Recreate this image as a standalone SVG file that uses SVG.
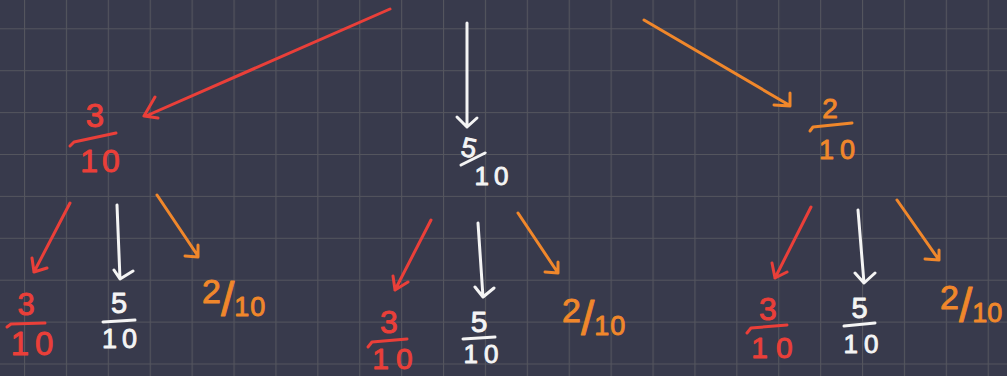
<svg xmlns="http://www.w3.org/2000/svg" width="1007" height="376" viewBox="0 0 1007 376">
<style>
.t{font-family:"Liberation Sans",Arial,sans-serif;text-anchor:middle;stroke-width:0.9;stroke-linejoin:round}
.l{font-family:"Liberation Sans",Arial,sans-serif;stroke-width:0.9;stroke-linejoin:round}
.r{fill:#ea3f39;stroke:#ea3f39}
.o{fill:#f0872b;stroke:#f0872b}
.w{fill:#f4f4f4;stroke:#f4f4f4}
.s{fill:none;stroke-width:3;stroke-linecap:round;stroke-linejoin:round}
.sr{stroke:#ea3f39}
.so{stroke:#f0872b}
.sw{stroke:#f4f4f4}
</style>
<defs>
<pattern id="grid" x="24" y="28.3" width="41.9" height="41.9" patternUnits="userSpaceOnUse">
<path d="M0,0 H41.9 M0,0 V41.9" fill="none" stroke="#54555e" stroke-width="2.2"/>
</pattern>
</defs>
<rect width="1007" height="376" fill="#383a4c"/>
<rect width="1007" height="376" fill="url(#grid)"/>

<g id="connectors">
<path class="s sr" d="M390,9 L146,116 M155,97 L144,116 L158,118"/>
<path class="s sw" d="M467,23 L467,127 M457,117 L467,127 L477,118"/>
<path class="s so" d="M644,20 L789,105 M790,93 L790,106 L774,105"/>

<path class="s sr" d="M70,203 L34,272 M32,258 L34,272 L47,268"/>
<path class="s sw" d="M117,205 L120,279 M114,270 L120,279 L133,271"/>
<path class="s so" d="M157,195 L198,256 M198,245 L198,257 L185,256"/>

<path class="s sr" d="M431,220 L395,290 M393,276 L395,290 L408,282"/>
<path class="s sw" d="M478,223 L483,297 M475,287 L483,297 L494,288"/>
<path class="s so" d="M518,213 L558,273 M558,262 L558,273 L545,272"/>

<path class="s sr" d="M811,207 L775,278 M772,263 L775,278 L787,272"/>
<path class="s sw" d="M858,210 L864,283 M855,273 L864,283 L875,273"/>
<path class="s so" d="M897,200 L939,260 M939,250 L939,260 L925,259"/>
</g>

<g id="top-red">
<text class="t r" x="95" y="127" font-size="33">3</text>
<path class="s sr" d="M70,146 L74,142 L116,133"/>
<text class="t r" x="102" y="172" font-size="32" letter-spacing="4">10</text>
</g>

<g id="top-white">
<text class="t w" x="469" y="157" font-size="27" transform="rotate(12 469 148)">5</text>
<path class="s sw" d="M461,165 L485,153"/>
<text class="t w" x="494" y="185" font-size="26" letter-spacing="5">10</text>
</g>

<g id="top-orange">
<text class="t o" x="830" y="118" font-size="28">2</text>
<path class="s so" d="M810,131 L813,127 L852,123"/>
<text class="t o" x="840" y="159" font-size="27" letter-spacing="6">10</text>
</g>

<g id="left-red">
<text class="t r" x="26" y="315" font-size="31">3</text>
<path class="s sr" d="M7,327 L11,324 L45,323"/>
<text class="t r" x="35" y="355" font-size="33" letter-spacing="6">10</text>
</g>

<g id="left-white">
<text class="t w" x="119" y="313" font-size="29">5</text>
<path class="s sw" d="M103,322 L135,320"/>
<text class="t w" x="122" y="348" font-size="27" letter-spacing="5">10</text>
</g>

<g id="left-orange">
<text class="l o" x="202" y="303"><tspan font-size="34">2</tspan><tspan dy="13" font-size="48">/</tspan><tspan font-size="27" letter-spacing="1">10</tspan></text>
</g>

<g id="mid-red">
<text class="t r" x="389" y="333" font-size="32">3</text>
<path class="s sr" d="M368,347 L372,342 L407,339"/>
<text class="t r" x="396" y="369" font-size="30" letter-spacing="7">10</text>
</g>

<g id="mid-white">
<text class="t w" x="479" y="332" font-size="30">5</text>
<path class="s sw" d="M463,339 L495,337"/>
<text class="t w" x="484" y="363" font-size="26" letter-spacing="6">10</text>
</g>

<g id="mid-orange">
<text class="l o" x="562" y="322"><tspan font-size="34">2</tspan><tspan dy="13" font-size="48">/</tspan><tspan font-size="27" letter-spacing="1">10</tspan></text>
</g>

<g id="right-red">
<text class="t r" x="768" y="320" font-size="32">3</text>
<path class="s sr" d="M747,333 L751,328 L787,325"/>
<text class="t r" x="776" y="358" font-size="30" letter-spacing="8">10</text>
</g>

<g id="right-white">
<text class="t w" x="859.5" y="318" font-size="29">5</text>
<path class="s sw" d="M844,326 L875,323"/>
<text class="t w" x="864" y="353" font-size="26" letter-spacing="6">10</text>
</g>

<g id="right-orange">
<text class="l o" x="940" y="309"><tspan font-size="34">2</tspan><tspan dy="13" font-size="48">/</tspan><tspan font-size="27" letter-spacing="0">10</tspan></text>
</g>
</svg>
